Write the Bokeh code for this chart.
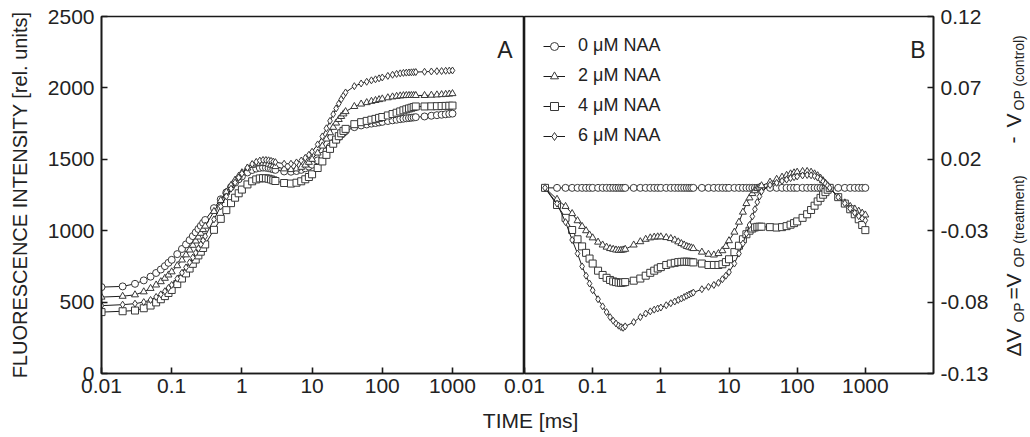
import math
from bokeh.plotting import figure
from bokeh.models import (FixedTicker, CustomJSTickFormatter, Range1d, Label,
                          Legend, LegendItem, ColumnDataSource)
from bokeh.layouts import row
from bokeh.embed import file_html
from bokeh.resources import INLINE

FONT = "Liberation Sans"

# ---------------- data ----------------
time_ms = [0.01, 0.02, 0.03, 0.04, 0.05, 0.06, 0.07, 0.08, 0.09, 0.10,
           0.12, 0.14, 0.16, 0.18, 0.20, 0.22, 0.24, 0.26, 0.28, 0.30,
           0.4, 0.5, 0.6, 0.7, 0.8, 0.9, 1.0,
           1.2, 1.4, 1.6, 1.8, 2.0, 2.2, 2.4, 2.6, 2.8, 3.0,
           4, 5, 6, 7, 8, 9, 10,
           12, 14, 16, 18, 20, 22, 24, 26, 28, 30,
           40, 50, 60, 70, 80, 90, 100,
           120, 140, 160, 180, 200, 220, 240, 260, 280, 300,
           400, 500, 600, 700, 800, 900, 1000]

fi_0 = [605, 610, 628, 652, 678, 704, 728, 752, 775, 796,
        836, 872, 904, 934, 962, 988, 1012, 1034, 1055, 1075,
        1158, 1220, 1268, 1306, 1336, 1360, 1380,
        1408, 1425, 1435, 1440, 1442, 1441, 1438, 1434, 1430, 1426,
        1415, 1413, 1418, 1426, 1437, 1449, 1462,
        1492, 1525, 1558, 1588, 1615, 1637, 1656, 1672, 1686, 1698,
        1725, 1737, 1744, 1750, 1754, 1758, 1762,
        1768, 1773, 1777, 1781, 1784, 1787, 1789, 1791, 1793, 1795,
        1800, 1805, 1809, 1812, 1815, 1818, 1820]

fi_2 = [535, 541, 551, 572, 596, 620, 643, 667, 690, 712,
        755, 795, 831, 865, 898, 928, 956, 982, 1008, 1032,
        1135, 1212, 1271, 1317, 1354, 1382, 1406,
        1439, 1458, 1468, 1472, 1473, 1470, 1466, 1460, 1455, 1449,
        1433, 1428, 1433, 1444, 1460, 1479, 1500,
        1544, 1593, 1642, 1686, 1724, 1754, 1779, 1800, 1818, 1834,
        1870, 1887, 1897, 1906, 1912, 1918, 1923,
        1931, 1937, 1941, 1944, 1946, 1947, 1947, 1947, 1947, 1947,
        1947, 1949, 1951, 1953, 1955, 1957, 1960]

fi_4 = [430, 436, 441, 457, 476, 498, 520, 542, 564, 585,
        626, 665, 701, 735, 768, 798, 827, 853, 879, 904,
        1006, 1083, 1144, 1193, 1231, 1262, 1288,
        1324, 1346, 1359, 1366, 1368, 1367, 1364, 1359, 1353, 1348,
        1334, 1330, 1336, 1346, 1360, 1376, 1395,
        1439, 1485, 1531, 1573, 1609, 1638, 1662, 1682, 1699, 1713,
        1746, 1760, 1769, 1777, 1783, 1790, 1796,
        1807, 1817, 1826, 1835, 1843, 1850, 1856, 1861, 1866, 1870,
        1870, 1871, 1872, 1873, 1874, 1875, 1876]

fi_6 = [475, 482, 489, 500, 515, 536, 554, 576, 599, 620,
        664, 705, 743, 778, 812, 845, 875, 904, 932, 961,
        1079, 1170, 1240, 1294, 1337, 1372, 1400,
        1441, 1467, 1482, 1491, 1495, 1495, 1493, 1489, 1484, 1480,
        1469, 1469, 1478, 1491, 1510, 1531, 1553,
        1604, 1660, 1717, 1769, 1816, 1856, 1890, 1920, 1946, 1968,
        2012, 2031, 2043, 2053, 2060, 2067, 2073,
        2084, 2092, 2098, 2102, 2105, 2107, 2108, 2109, 2110, 2111,
        2113, 2115, 2117, 2118, 2120, 2121, 2122]

# panel B starts at 0.02 ms
time_b = time_ms[1:]

dv_0 = [0.0, 0.0, 0.0, 0.0, 0.0, 0.0, 0.0, 0.0, 0.0,
        0.0, 0.0, 0.0, 0.0, 0.0, 0.0, 0.0, 0.0, 0.0, 0.0,
        0.0, 0.0, 0.0, 0.0, 0.0, 0.0, 0.0,
        0.0, 0.0, 0.0, 0.0, 0.0, 0.0, 0.0, 0.0, 0.0, 0.0,
        0.0, 0.0, 0.0, 0.0, 0.0, 0.0, 0.0,
        0.0, 0.0, 0.0, 0.0, 0.0, 0.0, 0.0, 0.0, 0.0, 0.0,
        0.0, 0.0, 0.0, 0.0, 0.0, 0.0, 0.0,
        0.0, 0.0, 0.0, 0.0, 0.0, 0.0, 0.0, 0.0, 0.0, 0.0,
        0.0, 0.0, 0.0, 0.0, 0.0, 0.0, 0.0]

dv_2 = [0.0, -0.008, -0.013, -0.018, -0.023, -0.027, -0.030, -0.033, -0.035,
        -0.038, -0.040, -0.0415, -0.0425, -0.043, -0.0435, -0.0437, -0.0437, -0.0435, -0.043,
        -0.040, -0.0377, -0.036, -0.035, -0.0345, -0.0343, -0.0343,
        -0.0348, -0.0355, -0.0365, -0.0378, -0.039, -0.040, -0.041, -0.0415, -0.042, -0.0425,
        -0.045, -0.0465, -0.047, -0.046, -0.044, -0.041, -0.037,
        -0.031, -0.024, -0.017, -0.011, -0.007, -0.004, -0.002, -0.0005, 0.0005, 0.0015,
        0.004, 0.006, 0.0075, 0.0088, 0.0098, 0.0105, 0.011,
        0.0115, 0.0115, 0.011, 0.0098, 0.0085, 0.0068, 0.005, 0.0032, 0.0015, 0.0,
        -0.0065, -0.0105, -0.013, -0.0148, -0.0163, -0.0177, -0.019]

dv_4 = [0.0, -0.012, -0.021, -0.0295, -0.036, -0.041, -0.0455, -0.0495, -0.053,
        -0.058, -0.061, -0.063, -0.0645, -0.0655, -0.066, -0.0663, -0.0665, -0.0663, -0.066,
        -0.065, -0.0635, -0.0615, -0.0595, -0.058, -0.0565, -0.0555,
        -0.054, -0.053, -0.0525, -0.052, -0.0518, -0.0517, -0.0517, -0.0518, -0.052, -0.0522,
        -0.053, -0.054, -0.054, -0.054, -0.0535, -0.052, -0.050,
        -0.045, -0.0405, -0.036, -0.0325, -0.030, -0.0285, -0.0277, -0.0273, -0.0272, -0.0272,
        -0.0275, -0.0278, -0.0275, -0.0268, -0.0258, -0.0247, -0.0235,
        -0.021, -0.0185, -0.0155, -0.0125, -0.0095, -0.007, -0.0048, -0.003, -0.0013, 0.0,
        -0.0065, -0.011, -0.015, -0.0185, -0.022, -0.026, -0.0296]

dv_6 = [0.0, -0.011, -0.024, -0.0365, -0.046, -0.055, -0.0615, -0.067, -0.0717,
        -0.078, -0.083, -0.087, -0.0905, -0.093, -0.095, -0.0965, -0.0975, -0.098, -0.097,
        -0.094, -0.0905, -0.088, -0.0865, -0.0853, -0.0845, -0.0838,
        -0.0822, -0.0808, -0.0796, -0.0785, -0.0775, -0.0765, -0.0755, -0.0747, -0.074, -0.0733,
        -0.071, -0.0693, -0.068, -0.0665, -0.064, -0.0615, -0.059,
        -0.053, -0.046, -0.039, -0.032, -0.026, -0.020, -0.015, -0.010, -0.006, -0.0025,
        0.002, 0.0035, 0.0048, 0.0058, 0.0068, 0.0075, 0.008,
        0.0087, 0.009, 0.0088, 0.0082, 0.0072, 0.006, 0.0045, 0.003, 0.0015, 0.0,
        -0.0065, -0.0108, -0.0145, -0.0175, -0.0198, -0.0215, -0.0228]

series_labels = ["0 μM NAA", "2 μM NAA", "4 μM NAA", "6 μM NAA"]
markers = ["circle", "triangle", "square", "diamond"]
fi_series = [fi_0, fi_2, fi_4, fi_6]
dv_series = [dv_0, dv_2, dv_4, dv_6]

x_ticks = [0.01, 0.1, 1, 10, 100, 1000]
fi_ticks = [0, 500, 1000, 1500, 2000, 2500]
dv_ticks = [-0.13, -0.08, -0.03, 0.02, 0.07, 0.12]

# ---------------- style ----------------
LINE_C = "#1a1a1a"
MARK_C = "#383838"
AX_C = "#1a1a1a"
TXT_C = "#222222"


def style_axis(ax):
    ax.major_tick_in = 6
    ax.major_tick_out = 0
    ax.minor_tick_in = 0
    ax.minor_tick_out = 0
    ax.axis_line_width = 1.6
    ax.axis_line_color = AX_C
    ax.major_tick_line_width = 1.6
    ax.major_tick_line_color = AX_C
    ax.major_label_text_font = FONT
    ax.major_label_text_font_size = "21px"
    ax.major_label_text_color = TXT_C


# ---------------- panel A ----------------
pa = figure(x_axis_type="log", x_range=Range1d(0.01, 10 ** 4.026),
            y_range=Range1d(0, 2500),
            frame_width=423, frame_height=357,
            min_border_left=101, min_border_right=0,
            min_border_top=16, min_border_bottom=60,
            output_backend="svg", toolbar_location=None)
pa.grid.visible = False
pa.outline_line_color = AX_C
pa.outline_line_width = 1.6
for ax in pa.axis:
    style_axis(ax)
pa.xaxis.ticker = FixedTicker(ticks=x_ticks, minor_ticks=[])
pa.xaxis.formatter = CustomJSTickFormatter(code="return String(tick)")
pa.xaxis.major_label_standoff = 5
pa.yaxis.ticker = FixedTicker(ticks=fi_ticks, minor_ticks=[])
pa.yaxis.major_label_standoff = 7
pa.yaxis.axis_label = "FLUORESCENCE INTENSITY [rel. units]"
pa.yaxis.axis_label_text_font = FONT
pa.yaxis.axis_label_text_font_size = "20px"
pa.yaxis.axis_label_text_font_style = "normal"
pa.yaxis.axis_label_text_color = TXT_C
pa.yaxis.axis_label_standoff = 14

for fi, mk in zip(fi_series, markers):
    pa.line(time_ms, fi, line_color=LINE_C, line_width=1)
    pa.scatter(time_ms, fi, marker=mk, size=7, line_color=MARK_C,
               fill_color="white", line_width=1)

pa.add_layout(Label(x=7166, y=2262, text="A", text_align="right",
                    text_baseline="alphabetic", text_font=FONT,
                    text_font_size="23px", text_color=TXT_C))

# ---------------- panel B ----------------
pb = figure(x_axis_type="log", x_range=Range1d(0.01, 1e4),
            y_range=Range1d(-0.13, 0.12), y_axis_location="right",
            frame_width=409, frame_height=357,
            min_border_left=60, min_border_right=96,
            min_border_top=16, min_border_bottom=60,
            output_backend="svg", toolbar_location=None,
            margin=(0, 0, 0, -60))
pb.border_fill_alpha = 0
pb.grid.visible = False
pb.outline_line_color = AX_C
pb.outline_line_width = 1.6
for ax in pb.axis:
    style_axis(ax)
pb.xaxis.ticker = FixedTicker(ticks=x_ticks, minor_ticks=[])
pb.xaxis.formatter = CustomJSTickFormatter(code="return String(tick)")
pb.xaxis.major_label_standoff = 5
pb.yaxis.ticker = FixedTicker(ticks=dv_ticks, minor_ticks=[])
pb.yaxis.formatter = CustomJSTickFormatter(code="return tick.toFixed(2)")
pb.yaxis.major_label_standoff = 7

for dv, mk in zip(dv_series, markers):
    pb.line(time_b, dv, line_color=LINE_C, line_width=1)
    pb.scatter(time_b, dv, marker=mk, size=7, line_color=MARK_C,
               fill_color="white", line_width=1)

# legend: proxy renderers holding a single NaN point (nothing drawn in the plot)
items = []
for lbl, mk in zip(series_labels, markers):
    src = ColumnDataSource(data=dict(x=[float("nan")], y=[float("nan")]))
    r1 = pb.line("x", "y", source=src, line_color=LINE_C, line_width=1)
    r2 = pb.scatter("x", "y", source=src, marker=mk, size=11,
                    line_color=MARK_C, fill_color="white", line_width=1)
    items.append(LegendItem(label=lbl, renderers=[r1, r2]))
legend = Legend(items=items, location="top_left",
                background_fill_alpha=0, border_line_alpha=0,
                label_text_font=FONT, label_text_font_size="18px",
                label_text_color=TXT_C,
                glyph_width=22, glyph_height=20, label_height=20,
                spacing=9, label_standoff=13, padding=7, margin=12)
pb.add_layout(legend)

pb.add_layout(Label(x=7638, y=0.0962, text="B", text_align="right",
                    text_baseline="alphabetic", text_font=FONT,
                    text_font_size="23px", text_color=TXT_C))

# x axis title, centred on the panel junction (side-panel label -> not clipped)
pb.add_layout(Label(x=0.0123, y=-0.163, text="TIME [ms]", text_align="center",
                    text_baseline="middle", text_font=FONT,
                    text_font_size="21px", text_color=TXT_C), "below")

# right axis title with subscripts (kept in a side panel so it is not clipped)
XB = 1.467e5   # centre line for main text
XS = 1.766e5   # centre line for subscripts
pieces = [("ΔV", -0.1181, XB, "21px"),
          ("OP", -0.0943, XS, "14px"),
          ("=", -0.0782, XB, "21px"),
          ("V", -0.0698, XB, "21px"),
          ("OP (treatment)", -0.0558, XS, "14px"),
          ("-", 0.0311, XB, "21px"),
          ("V", 0.0423, XB, "21px"),
          ("OP (control)", 0.0542, XS, "14px")]
for txt, yy, xx, fs in pieces:
    pb.add_layout(Label(x=xx, y=yy, text=txt, angle=math.pi / 2,
                        text_align="left", text_baseline="middle",
                        text_font=FONT, text_font_size=fs, text_color=TXT_C),
                  "below")

layout = row(pa, pb)
open("out.html", "w").write(file_html(layout, INLINE))
